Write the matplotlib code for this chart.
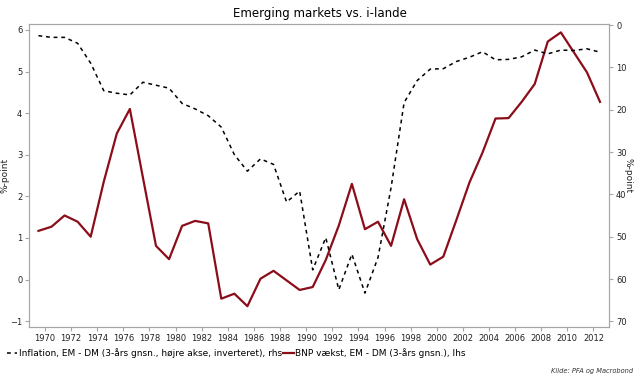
import numpy as np
import matplotlib
matplotlib.use("Agg")
import matplotlib.pyplot as plt

# annual values, plotted at mid-year
years = np.arange(1969, 2013)
bnp = [1.17, 1.27, 1.54, 1.39, 1.03, 2.35, 3.51, 4.10, 2.45, 0.81,
       0.49, 1.29, 1.41, 1.35, -0.46, -0.34, -0.64, 0.02, 0.21, -0.02,
       -0.25, -0.18, 0.47, 1.30, 2.30, 1.21, 1.39, 0.81, 1.93, 0.97,
       0.36, 0.55, 1.43, 2.33, 3.05, 3.87, 3.88, 4.27, 4.70, 5.72,
       5.94, 5.46, 4.98, 4.27]
inflation = [2.5, 2.9, 2.9, 4.3, 9.0, 15.5, 16.1, 16.5, 13.5, 14.2,
             14.9, 18.5, 19.8, 21.4, 24.1, 30.6, 34.5, 31.6, 32.9, 41.8,
             39.2, 57.8, 50.2, 62.5, 54.1, 63.3, 54.9, 38.4, 18.3, 13.1,
             10.4, 10.3, 8.6, 7.6, 6.3, 8.2, 8.1, 7.5, 5.9, 6.8,
             5.9, 6.0, 5.6, 6.4]
xticks = np.arange(1970, 2013, 2)

red = '#8c0d1a'
grey = '#a6a6a6'

fig = plt.figure(figsize=(6.4, 3.82), dpi=100)
ax = fig.add_axes([0.0458, 0.144, 0.906, 0.793])
ax2 = ax.twinx()

x = years + 0.5
l1, = ax2.plot(x, inflation, color='black', lw=1.1, ls=(0, (2.5, 2.5)),
               label='Inflation, EM - DM (3-års gnsn., højre akse, inverteret), rhs')
l2, = ax.plot(x, bnp, color=red, lw=1.6,
              label='BNP vækst, EM - DM (3-års gnsn.), lhs')

ax.set_xlim(1968.8, 2013.2)
ax.set_ylim(-1.14, 6.14)
ax2.set_ylim(71.3, -0.24)
ax.set_xticks(xticks)
ax.set_yticks(np.arange(-1, 7))
ax2.set_yticks(np.arange(0, 71, 10))

for a in (ax, ax2):
    for s in a.spines.values():
        s.set_color(grey)
    a.tick_params(colors=grey, labelcolor='#222222', labelsize=6,
                  length=3, width=0.8, pad=2)

ax.set_ylabel('%-point', fontsize=6.5, color='#222222')
ax.yaxis.set_label_coords(-0.034, 0.5)
ax2.set_ylabel('%-point', fontsize=6.5, color='#222222', rotation=270,
               va='center')
ax2.yaxis.set_label_coords(1.032, 0.5)

fig.suptitle('Emerging markets vs. i-lande', fontsize=8.5, y=0.982)

fig.legend(handles=[l1, l2], loc='upper left', bbox_to_anchor=(0.005, 0.098),
           ncol=2, frameon=False, fontsize=6.5, handlelength=1.15,
           handletextpad=0.15, columnspacing=0.2, borderaxespad=0)

fig.text(0.99, 0.02, 'Kilde: PFA og Macrobond', fontsize=4.8,
         style='italic', ha='right', va='bottom', color='#333333')

fig.savefig('out.png', dpi=100)
